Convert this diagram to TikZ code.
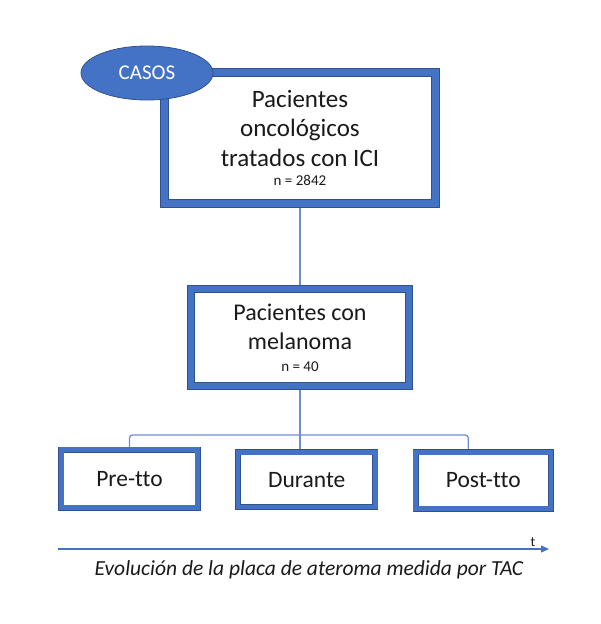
\documentclass[tikz,border=0pt]{standalone}
\usepackage{fontspec}
\setmainfont{Carlito}[Ligatures=CommonOff]
\usetikzlibrary{arrows.meta,backgrounds,calc,shapes.geometric}
\definecolor{bandblue}{HTML}{4472C4}
\definecolor{edgeblue}{HTML}{2F528F}
\definecolor{linkblue}{HTML}{6F8ED0}
\definecolor{txt}{HTML}{1A1A1A}
\begin{document}
\begin{tikzpicture}[x=1pt,y=-1pt,
  band/.style={rectangle, draw=edgeblue, double=bandblue, line width=0.6pt,
    double distance=#1, fill=white, outer sep=0pt, inner sep=0pt,
    align=center, text=txt},
  toptext/.style={font=\fontsize{25}{29.5}\selectfont},
  bigtext/.style={font=\fontsize{24}{29}\selectfont},
  smalltext/.style={font=\fontsize{23.5}{28}\selectfont},
  link/.style={draw=linkblue, line width=1.3pt},
  casos/.style={ellipse, draw=edgeblue, line width=0.8pt, fill=bandblue,
    text=white, font=\fontsize{21}{24}\selectfont, inner sep=0pt},
  axisline/.style={draw=bandblue, line width=1.2pt,
    -{Triangle[length=8pt,width=7pt]}}]
\useasboundingbox (0,0) rectangle (600,624);
% boxes
\node[band=7.4pt, toptext, minimum width=271.4pt, minimum height=131.4pt]
  (top) at (300,138) {Pacientes\\oncológicos\\tratados con ICI\\[-10pt]\fontsize{15}{15}\selectfont n = 2842};
\node[band=6.6pt, bigtext, minimum width=218pt, minimum height=97pt]
  (mid) at (300,337.5) {Pacientes con\\melanoma\\[-7pt]\fontsize{15}{15}\selectfont n = 40};
\node[band=4.6pt, smalltext, minimum width=136.4pt, minimum height=58pt]
  (pre) at (129.5,478.7) {Pre-tto};
\node[band=4.6pt, smalltext, minimum width=137.3pt, minimum height=54.7pt]
  (dur) at (306.7,479.7) {Durante};
\node[band=4.6pt, smalltext, minimum width=135.3pt, minimum height=56.4pt]
  (post) at (483.3,480.5) {Post-tto};
\node[casos, minimum width=132pt, minimum height=54pt] (cas) at (147,73) {CASOS};
% connectors
\coordinate (bus) at (300,435);
\coordinate (bl) at (129.5,435);
\coordinate (br) at (468.3,435);
\begin{scope}[on background layer]
\draw[link] (top.south) -- (mid.north);
\draw[link] (mid.south) -- (bus);
\draw[link, rounded corners=3pt] (pre.north) -- (bl) -- (br) -- (br |- post.north);
\draw[link] (bus) -- (bus |- dur.north);
\end{scope}
% time axis
\coordinate (axL) at (58,549);
\coordinate (axR) at (549,549);
\draw[axisline] (axL) -- (axR);
\node[text=txt, font=\fontsize{14}{14}\selectfont, inner sep=0pt] (t) at (533,542) {t};
\node[text=txt, font=\fontsize{21.5}{24}\selectfont\itshape, inner sep=0pt] (cap) at (309,570)
  {Evolución de la placa de ateroma medida por TAC};
\end{tikzpicture}
\end{document}
